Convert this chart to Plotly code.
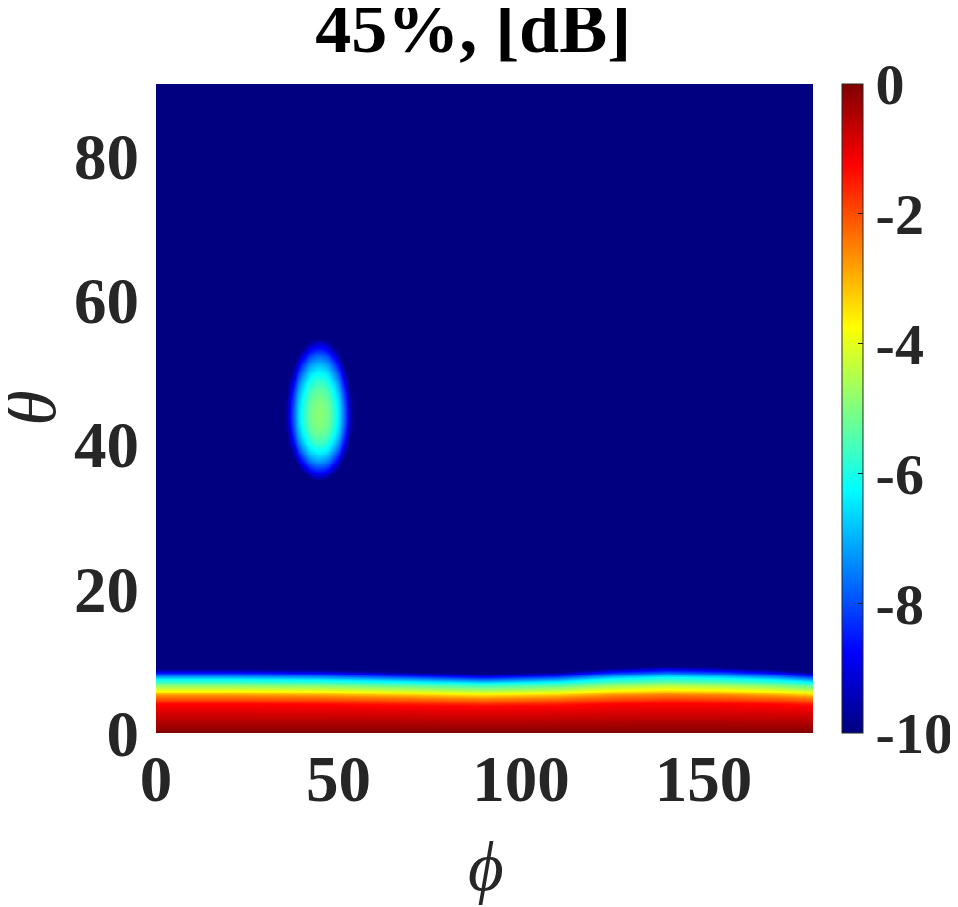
import numpy as np
import plotly.graph_objects as go

# ---- tick labels ----
phi_ticks = [0, 50, 100, 150]
theta_ticks = [0, 20, 40, 60, 80]
cbar_ticks = [0, -2, -4, -6, -8, -10]
cbar_ticktext = ["0", "-2", "-4", "-6", "-8", "-10"]

# ---- band near theta = 0: dB level vs theta (read at phi = 0) ----
band_theta = [0.0, 3.96, 5.1, 5.8, 7.4, 8.36, 8.8]
band_db = [0.0, -1.25, -2.5, -3.75, -6.25, -8.75, -10.0]

# ---- -10 dB edge of the band vs phi ----
edge_phi = [0, 20, 45, 70, 90, 110, 125, 140, 155, 170, 180]
edge_theta = [8.9, 8.9, 8.8, 8.5, 8.25, 8.5, 9.0, 9.25, 9.1, 8.8, 8.45]

# ---- lobe near (phi, theta) = (45, 45) ----
spot_center = [44.6, 44.0]          # phi, theta
spot_peak_db = [-4.9]
spot_half_phi = [9.0]
spot_half_theta = [9.0, 10.8]       # below, above centre
spot_shape = [2.2]

# ---- grid ----
phi = np.arange(0, 180.01, 1.0)
theta = np.arange(0, 90.01, 0.25)
P, T = np.meshgrid(phi, theta)

scale = np.interp(P, edge_phi, edge_theta) / band_theta[-1]
band = np.interp(T / scale, band_theta, band_db, right=-10.0)

dphi = (P - spot_center[0]) / spot_half_phi[0]
dth = np.where(T >= spot_center[1],
               (T - spot_center[1]) / spot_half_theta[1],
               (T - spot_center[1]) / spot_half_theta[0])
r = np.sqrt(dphi ** 2 + dth ** 2)
spot = spot_peak_db[0] - (spot_peak_db[0] + 10.0) * r ** spot_shape[0]

z = np.clip(np.maximum(band, spot), -10, 0)

jet = [[0.0, "rgb(0,0,128)"], [0.125, "rgb(0,0,255)"], [0.375, "rgb(0,255,255)"],
       [0.625, "rgb(255,255,0)"], [0.875, "rgb(255,0,0)"], [1.0, "rgb(128,0,0)"]]

FONT = "Liberation Serif, Times New Roman, serif"
TXT = "#262626"

# page body has an 8px margin: figure drawn at (8, 8)
W, H = 950, 899
L, R, T_, B = 148, 145.3, 76, 173.5
PW = W - L - R
PH = H - T_ - B

fig = go.Figure(go.Heatmap(
    x=phi, y=theta, z=z, zmin=-10, zmax=0, zsmooth="best",
    colorscale=jet,
    colorbar=dict(
        x=(834 - L) / PW, xanchor="left", xpad=0,
        y=0.5, yanchor="middle", len=1, lenmode="fraction", ypad=0,
        thickness=20.7, thicknessmode="pixels",
        outlinecolor=TXT, outlinewidth=1,
        tickvals=cbar_ticks, ticktext=cbar_ticktext,
        ticks="inside", ticklen=5, tickcolor=TXT,
        tickfont=dict(family=FONT, size=58, color=TXT, weight="bold"),
    ),
))

fig.update_layout(
    width=W, height=H,
    margin=dict(l=L, r=R, t=T_, b=B, autoexpand=False),
    paper_bgcolor="white", plot_bgcolor="white",
    title=dict(text="45%, [dB]", x=(465 - L) / PW, xref="paper", xanchor="center",
               y=1 - 19 / H, yref="container", yanchor="middle",
               font=dict(family=FONT, size=72, color="black", weight="bold")),
    xaxis=dict(range=[0, 180], tickvals=phi_ticks, ticks="", showgrid=False,
               zeroline=False, showline=False, automargin=False,
               ticklabelstandoff=2,
               tickfont=dict(family=FONT, size=65, color=TXT, weight="bold")),
    yaxis=dict(range=[0, 90], tickvals=theta_ticks, ticks="", showgrid=False,
               zeroline=False, showline=False, automargin=False,
               ticklabelstandoff=16,
               tickfont=dict(family=FONT, size=65, color=TXT, weight="bold")),
    annotations=[
        dict(text="<i>\u03d5</i>", xref="paper", yref="paper",
             x=(478 - L) / PW, y=-(860 - (H - B)) / PH,
             xanchor="center", yanchor="middle", showarrow=False,
             font=dict(family=FONT, size=69, color=TXT)),
        dict(text="<i>θ</i>", xref="paper", yref="paper",
             x=(23 - L) / PW, y=1 - (400 - T_) / PH, textangle=-90,
             xanchor="center", yanchor="middle", showarrow=False,
             font=dict(family=FONT, size=72, color=TXT)),
    ],
)

fig.write_html("out.html")
